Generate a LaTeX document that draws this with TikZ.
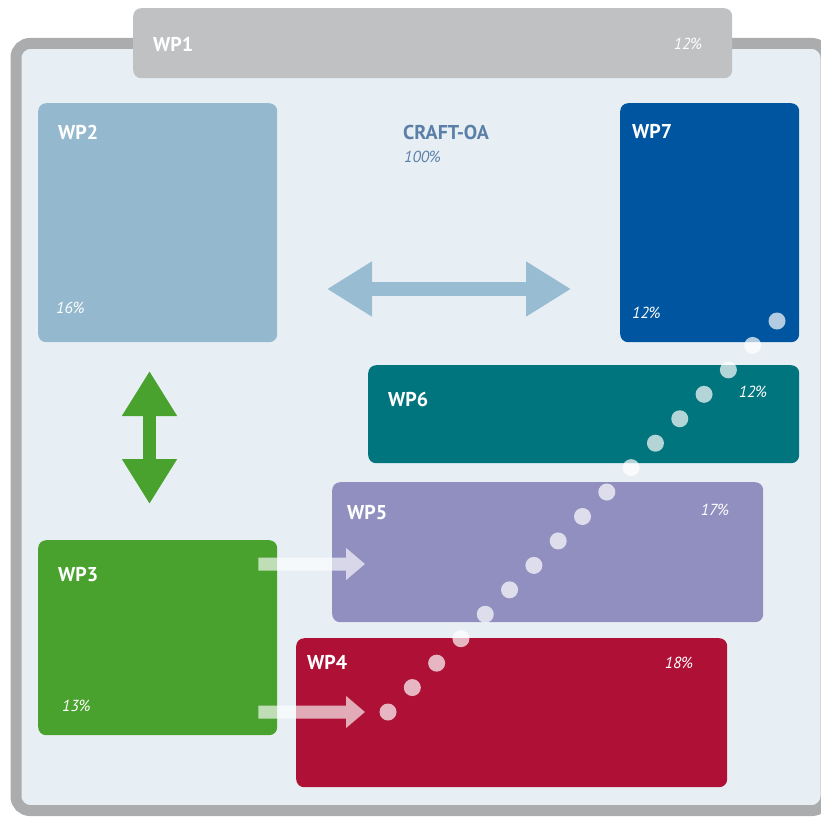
\documentclass[tikz,border=0pt]{standalone}
\usepackage{fontspec}
\setmainfont{PT Sans}
\usetikzlibrary{arrows.meta,calc}
\definecolor{framegray}{HTML}{ABACAE}
\definecolor{framefill}{HTML}{E8EFF4}
\definecolor{wpone}{HTML}{C0C1C3}
\definecolor{wptwo}{HTML}{94B9CE}
\definecolor{wpthree}{HTML}{49A12E}
\definecolor{wpfour}{HTML}{AE1036}
\definecolor{wpfive}{HTML}{918FC0}
\definecolor{wpsix}{HTML}{00757D}
\definecolor{wpseven}{HTML}{0055A1}
\definecolor{craftblue}{HTML}{5B80A8}
\definecolor{linkblue}{HTML}{98BCD1}
\tikzset{
  wpbox/.style={rounded corners=8pt, inner sep=0pt, anchor=north west},
  wplabel/.style={text=white, font=\fontsize{20}{24}\selectfont\bfseries, inner sep=0pt, anchor=base west},
  wpshare/.style={text=white, font=\fontsize{16}{19}\selectfont\itshape, inner sep=0pt},
  fatarrow/.style={line width=14pt, {Triangle[width=52pt,length=45pt]}-{Triangle[width=52pt,length=45pt]}},
  feedarrow/.style={line width=13pt, white, -{Triangle[width=31pt,length=19pt]}},
  dot/.style={white, opacity=0.7}
}
\begin{document}
\begin{tikzpicture}[x=1pt,y=-1pt]
\useasboundingbox (0,0) rectangle (821,816);
% frame of the project
\draw [framegray, fill=framefill, line width=11pt, rounded corners=14pt] (16,43.5) rectangle (826,810.5);
% work packages
\node [wpbox, fill=wpone, minimum width=599pt, minimum height=70pt] (wp1) at (133,8) {};
\node [wpbox, fill=wptwo, minimum width=239pt, minimum height=239pt] (wp2) at (38,103) {};
\node [wpbox, fill=wpseven, minimum width=179pt, minimum height=239pt] (wp7) at (620,103) {};
\node [wpbox, fill=wpsix, minimum width=431pt, minimum height=98pt] (wp6) at (368,365) {};
\node [wpbox, fill=wpfive, minimum width=431pt, minimum height=140pt] (wp5) at (332,482) {};
\node [wpbox, fill=wpthree, minimum width=239pt, minimum height=195pt] (wp3) at (38,540) {};
\node [wpbox, fill=wpfour, minimum width=431pt, minimum height=149pt] (wp4) at (296,638) {};
% titles and shares
\node [wplabel] (wp1t) at ([shift={(20,44)}]wp1.north west) {WP1};
\node [wpshare, anchor=base east] (wp1p) at ([shift={(-30,42)}]wp1.north east) {12\%};
\node [wplabel] (wp2t) at ([shift={(20,36)}]wp2.north west) {WP2};
\node [wpshare, anchor=base west] (wp2p) at ([shift={(18,210)}]wp2.north west) {16\%};
\node [wplabel] (wp7t) at ([shift={(12,35)}]wp7.north west) {WP7};
\node [wpshare, anchor=base west] (wp7p) at ([shift={(12,215)}]wp7.north west) {12\%};
\node [wplabel] (wp6t) at ([shift={(20,41)}]wp6.north west) {WP6};
\node [wpshare, anchor=base east] (wp6p) at ([shift={(-32,32)}]wp6.north east) {12\%};
\node [wplabel] (wp5t) at ([shift={(15,37)}]wp5.north west) {WP5};
\node [wpshare, anchor=base east] (wp5p) at ([shift={(-34,33)}]wp5.north east) {17\%};
\node [wplabel] (wp3t) at ([shift={(20,41)}]wp3.north west) {WP3};
\node [wpshare, anchor=base west] (wp3p) at ([shift={(24,171)}]wp3.north west) {13\%};
\node [wplabel] (wp4t) at ([shift={(11,31)}]wp4.north west) {WP4};
\node [wpshare, anchor=base east] (wp4p) at ([shift={(-34,30)}]wp4.north east) {18\%};
\node [wplabel, text=craftblue] (craft) at (403,139) {CRAFT-OA};
\node [wpshare, text=craftblue, anchor=base west] (craftp) at ([shift={(1,23)}]craft.base west) {100\%};
% links
\coordinate (linkw) at (327,289);
\coordinate (linke) at (571,289);
\draw [fatarrow, linkblue] (linkw) -- (linke);
\coordinate (linkn) at (149.5,371);
\coordinate (links) at (149.5,504);
\draw [fatarrow, wpthree, line width=13pt] (linkn) -- (links);
\coordinate (feedfive) at (365,564);
\coordinate (feedfour) at (365,712);
\begin{scope}[transparency group, opacity=0.65]
\draw [feedarrow] (wp3.north east |- feedfive) ++(-19,0) -- (feedfive);
\end{scope}
\begin{scope}[transparency group, opacity=0.65]
\draw [feedarrow] (wp3.north east |- feedfour) ++(-19,0) -- (feedfour);
\end{scope}
% dotted trail
\coordinate (trailstart) at (388,712);
\coordinate (trailend) at (777,321);
\foreach \i in {0,...,16}
  \fill [dot] ($(trailstart)!\i/16!(trailend)$) circle (8.5);
\end{tikzpicture}
\end{document}
